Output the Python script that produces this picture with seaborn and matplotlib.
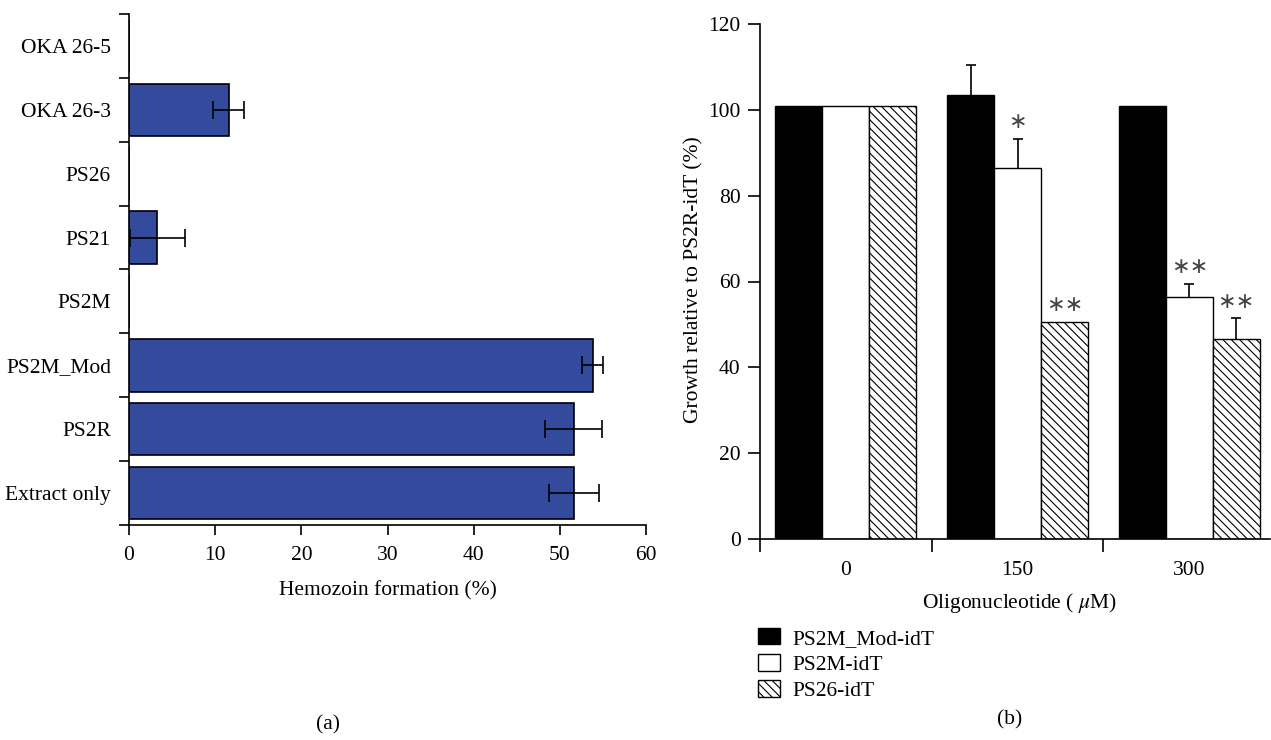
import numpy as np
import pandas as pd
import matplotlib
matplotlib.use("Agg")
import matplotlib.pyplot as plt
import seaborn as sns
from matplotlib.patches import Patch

sns.set_theme(style="ticks")
plt.rcParams['font.family'] = ['Liberation Serif', 'DejaVu Serif']
plt.rcParams['mathtext.fontset'] = 'stix'
plt.rcParams['hatch.linewidth'] = 0.8
plt.rcParams['axes.edgecolor'] = 'black'
plt.rcParams['xtick.color'] = 'black'
plt.rcParams['ytick.color'] = 'black'
plt.rcParams['text.color'] = 'black'
plt.rcParams['axes.labelcolor'] = 'black'

FS = 15.5

# panel (a): hemozoin formation
samples = ["OKA 26-5", "OKA 26-3", "PS26", "PS21", "PS2M", "PS2M_Mod", "PS2R", "Extract only"]
hemozoin = [0, 11.6, 0, 3.3, 0, 53.8, 51.6, 51.6]
hemozoin_err = [0, 1.8, 0, 3.2, 0, 1.2, 3.3, 2.9]

# panel (b): growth relative to PS2R-idT
doses = ["0", "150", "300"]
oligos = ["PS2M_Mod-idT", "PS2M-idT", "PS26-idT"]
growth_mod = [101, 103.5, 101]
growth_ps2m = [101, 86.5, 56.5]
growth_ps26 = [101, 50.6, 46.7]
err_mod = [0, 7.0, 0]
err_ps2m = [0, 6.8, 3.0]
err_ps26 = [0, 0, 4.7]
stars_mod = ["", "", ""]
stars_ps2m = ["", "*", "**"]
stars_ps26 = ["", "**", "**"]

W, H = 1271, 740
fig = plt.figure(figsize=(W / 100, H / 100), dpi=100)
axA = fig.add_axes([129 / W, 1 - 525 / H, (646 - 129) / W, (525 - 14) / H])
axB = fig.add_axes([760 / W, 1 - 539 / H, (1270 - 760) / W, (539 - 24) / H])

# ---- (a)
df_a = pd.DataFrame({"sample": samples, "value": hemozoin})
sns.barplot(data=df_a, x="value", y="sample", orient="h", color="#344a9c",
            saturation=1, edgecolor="black", linewidth=1.2, width=0.82, ax=axA)
for i, (v, e) in enumerate(zip(hemozoin, hemozoin_err)):
    if e > 0:
        axA.errorbar(v, i, xerr=e, fmt="none", ecolor="black",
                     elinewidth=1.2, capsize=6.5, capthick=1.2)
axA.set_xlim(0, 60)
axA.set_ylim(len(samples) - 0.5, -0.5)
axA.set_xticks(np.arange(0, 61, 10))
axA.set_yticks(np.arange(-0.5, len(samples), 1.0), labels=[])
axA.set_yticks(np.arange(len(samples)), labels=samples, minor=True)
axA.tick_params(axis="y", which="minor", length=0, pad=13, labelsize=FS)
axA.tick_params(axis="y", which="major", length=7, width=1.2)
axA.tick_params(axis="x", length=7, width=1.2, pad=8, labelsize=FS)
axA.set_ylabel("")
axA.set_xlabel("Hemozoin formation (%)", fontsize=FS, va="center")
axA.xaxis.set_label_coords(0.5, -(591 - 525) / 511)
for s in ["top", "right"]:
    axA.spines[s].set_visible(False)
for s in ["left", "bottom"]:
    axA.spines[s].set_linewidth(1.2)

# ---- (b)
df_b = pd.DataFrame({
    "dose": doses * 3,
    "oligo": [o for o in oligos for _ in doses],
    "growth": growth_mod + growth_ps2m + growth_ps26,
})
sns.barplot(data=df_b, x="dose", y="growth", hue="oligo", order=doses, hue_order=oligos,
            palette=["black", "white", "white"], saturation=1, edgecolor="black",
            linewidth=1.0, width=0.82, ax=axB, legend=False)
for bar in axB.containers[2]:
    bar.set_hatch("\\\\\\\\")

# one-sided (upper) error bars and significance marks
for cont, errs, stars in zip(axB.containers, [err_mod, err_ps2m, err_ps26],
                             [stars_mod, stars_ps2m, stars_ps26]):
    for rect, e, st in zip(cont, errs, stars):
        x = rect.get_x() + rect.get_width() / 2
        top = rect.get_height()
        if e > 0:
            axB.vlines(x, top, top + e, color="black", lw=1.2)
            axB.plot(x, top + e, marker="_", markersize=7, mew=1.2, color="black")
        if st:
            axB.annotate(st.replace("*", "\u2217"), (x, top + e), xytext=(0, 12),
                         textcoords="offset points", ha="center", va="center",
                         fontsize=16, color="#444444", family="DejaVu Sans")

axB.set_xlim(-0.5, 2.47)
axB.set_ylim(0, 120)
axB.set_yticks(np.arange(0, 121, 20))
axB.set_xticks([-0.5, 0.5, 1.5], labels=[])
axB.set_xticks(np.arange(len(doses)), labels=doses, minor=True)
axB.tick_params(axis="x", which="minor", length=0, pad=16, labelsize=FS)
axB.tick_params(axis="x", which="major", length=9, width=1.2)
axB.tick_params(axis="y", length=9, width=1.2, pad=5, labelsize=FS)
axB.set_xlabel("Oligonucleotide ( $\\mu$M)", fontsize=FS, va="center")
axB.xaxis.set_label_coords((1020 - 760) / 510, -(603 - 539) / 515)
axB.set_ylabel("Growth relative to PS2R-idT (%)", fontsize=FS, va="center")
axB.yaxis.set_label_coords(-(760 - 694) / 510, (539 - 280) / 515)
for s in ["top", "right"]:
    axB.spines[s].set_visible(False)
for s in ["left", "bottom"]:
    axB.spines[s].set_linewidth(1.2)

handles = [Patch(facecolor="black", edgecolor="black"),
           Patch(facecolor="white", edgecolor="black"),
           Patch(facecolor="white", edgecolor="black", hatch="\\\\\\\\")]
fig.legend(handles, oligos, loc="upper left", bbox_to_anchor=(758 / W, 1 - 628 / H),
           frameon=False, fontsize=FS, handlelength=1.0, handleheight=0.8,
           handletextpad=0.6, labelspacing=0.25, borderpad=0, borderaxespad=0)

fig.text(328 / W, 1 - 725 / H, "(a)", ha="center", va="center", fontsize=FS)
fig.text(1010 / W, 1 - 720 / H, "(b)", ha="center", va="center", fontsize=FS)

fig.savefig("out.png", dpi=100)
